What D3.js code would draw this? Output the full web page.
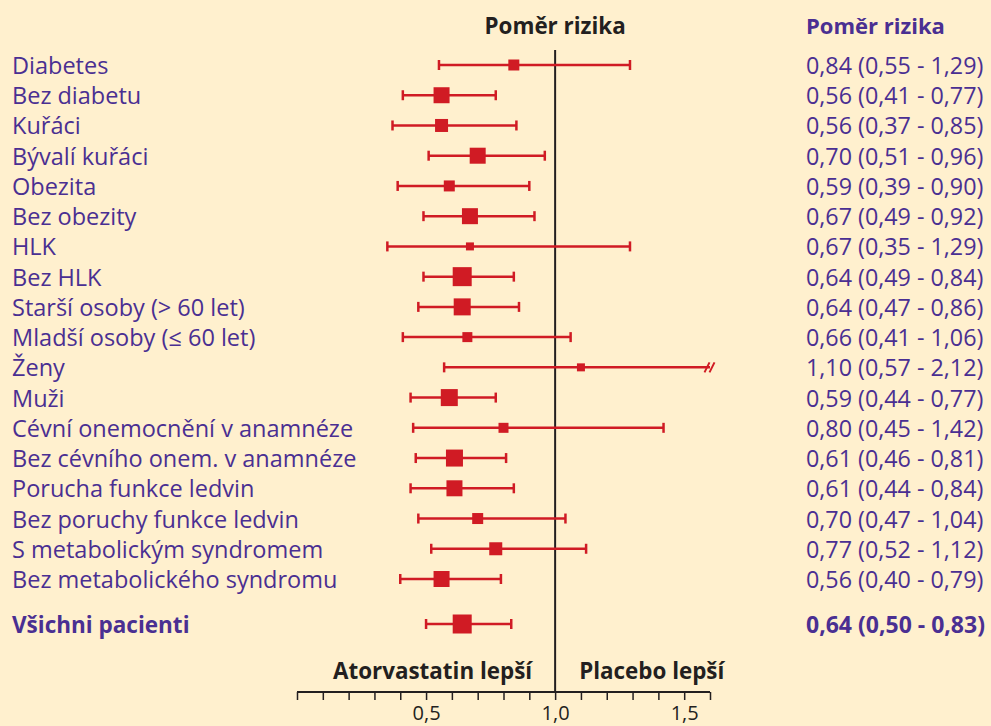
<!DOCTYPE html>
<html>
<head>
<meta charset="utf-8">
<script src="https://cdn.jsdelivr.net/npm/d3@7"></script>
<style>
  html, body { margin: 0; padding: 0; background: #fff0ce; }
  svg { display: block; }
</style>
</head>
<body>
<svg id="chart" width="991" height="726"></svg>
<script>
// ---- data ----
const categories = [
  "Diabetes", "Bez diabetu", "Kuřáci", "Bývalí kuřáci", "Obezita", "Bez obezity",
  "HLK", "Bez HLK", "Starší osoby (> 60 let)", "Mladší osoby (≤ 60 let)", "Ženy", "Muži",
  "Cévní onemocnění v anamnéze", "Bez cévního onem. v anamnéze", "Porucha funkce ledvin",
  "Bez poruchy funkce ledvin", "S metabolickým syndromem", "Bez metabolického syndromu"
];
const hr    = [0.84, 0.56, 0.56, 0.70, 0.59, 0.67, 0.67, 0.64, 0.64, 0.66, 1.10, 0.59, 0.80, 0.61, 0.61, 0.70, 0.77, 0.56];
const lower = [0.55, 0.41, 0.37, 0.51, 0.39, 0.49, 0.35, 0.49, 0.47, 0.41, 0.57, 0.44, 0.45, 0.46, 0.44, 0.47, 0.52, 0.40];
const upper = [1.29, 0.77, 0.85, 0.96, 0.90, 0.92, 1.29, 0.84, 0.86, 1.06, 2.12, 0.77, 1.42, 0.81, 0.84, 1.04, 1.12, 0.79];
const weight = [11, 16, 13, 16, 11, 16, 8, 19, 17, 10, 8, 17, 10, 17, 16, 11, 13, 16];
const overallLabel = "Všichni pacienti";
const overallHr = 0.64, overallLower = 0.50, overallUpper = 0.83, overallWeight = 19;
const tickValues = [0.5, 1.0, 1.5];
const headerLeft = "Poměr rizika";
const headerRight = "Poměr rizika";
const favLeft = "Atorvastatin lepší";
const favRight = "Placebo lepší";

// ---- layout ----
const svg = d3.select("#chart");
const W = 991, H = 726;
const RED = "#d01b24", PURPLE = "#4a2f92", BLACK = "#231f20";
const FONT = "'Open Sans', sans-serif";

svg.append("rect").attr("width", W).attr("height", H).attr("fill", "#fff0ce");

const x = d3.scaleLinear().domain([0, 1.6]).range([297, 710]);
const y = d3.scalePoint().domain(d3.range(categories.length)).range([65, 579]);
const yOverall = 624;
const size = d3.scaleLinear().domain([0, 19]).range([0, 19]);
const fmt = v => d3.format(".2f")(v).replace(".", ",");
const fsize = 23.5;

const rows = categories.map((c, i) => ({label: c, hr: hr[i], lo: lower[i], hi: upper[i], w: weight[i], y: y(i), bold: false}));
rows.push({label: overallLabel, hr: overallHr, lo: overallLower, hi: overallUpper, w: overallWeight, y: yOverall, bold: true});

// headers
svg.append("text").attr("x", x(1.0)).attr("y", 25).attr("text-anchor", "middle")
  .attr("dominant-baseline", "central").attr("font-family", FONT).attr("font-weight", "bold")
  .attr("font-size", 22.4).attr("fill", BLACK).text(headerLeft);
svg.append("text").attr("x", 806).attr("y", 25)
  .attr("dominant-baseline", "central").attr("font-family", FONT).attr("font-weight", "bold")
  .attr("font-size", 22).attr("fill", PURPLE).text(headerRight);

// reference line
svg.append("line").attr("x1", x(1)).attr("x2", x(1)).attr("y1", 50).attr("y2", 692)
  .attr("stroke", BLACK).attr("stroke-width", 2);

// labels
svg.selectAll("text.lab").data(rows).join("text").attr("class", "lab")
  .attr("x", 12).attr("y", d => d.y).attr("dominant-baseline", "central")
  .attr("font-family", FONT).attr("font-size", d => d.bold ? 22.5 : fsize).attr("font-weight", d => d.bold ? "bold" : "normal")
  .attr("fill", PURPLE).text(d => d.label);

svg.selectAll("text.val").data(rows).join("text").attr("class", "val")
  .attr("x", 806).attr("y", d => d.y).attr("dominant-baseline", "central")
  .attr("font-family", FONT).attr("font-size", d => d.bold ? 23 : 23.3).attr("font-weight", d => d.bold ? "bold" : "normal")
  .attr("fill", PURPLE).text(d => `${fmt(d.hr)} (${fmt(d.lo)} - ${fmt(d.hi)})`);

// CIs
const maxV = x.domain()[1];
const g = svg.append("g");
rows.forEach(d => {
  const clipped = d.hi > maxV;
  const xr = x(Math.min(d.hi, maxV));
  g.append("line").attr("x1", x(d.lo)).attr("x2", xr).attr("y1", d.y).attr("y2", d.y)
    .attr("stroke", RED).attr("stroke-width", 2.5);
  g.append("line").attr("x1", x(d.lo)).attr("x2", x(d.lo)).attr("y1", d.y - 5).attr("y2", d.y + 5)
    .attr("stroke", RED).attr("stroke-width", 2.5);
  if (!clipped) {
    g.append("line").attr("x1", xr).attr("x2", xr).attr("y1", d.y - 5).attr("y2", d.y + 5)
      .attr("stroke", RED).attr("stroke-width", 2.5);
  } else {
    [-3, 2].forEach(o => {
      g.append("line").attr("x1", xr + o - 2.5).attr("x2", xr + o + 2.5).attr("y1", d.y + 5).attr("y2", d.y - 5)
        .attr("stroke", RED).attr("stroke-width", 2);
    });
  }
  const s = size(d.w);
  g.append("rect").attr("x", x(d.hr) - s / 2).attr("y", d.y - s / 2).attr("width", s).attr("height", s)
    .attr("fill", RED);
});

// axis
const axisY = 692;
const axis = d3.axisBottom(x).tickValues(d3.range(0, 16.5, 1).map(v => v / 10)).tickSize(8)
  .tickFormat(v => tickValues.some(t => Math.abs(t - v) < 1e-9) ? d3.format(".1f")(v).replace(".", ",") : "");
const ag = svg.append("g").attr("transform", `translate(0,${axisY})`).call(axis);
ag.select(".domain").attr("stroke", BLACK).attr("stroke-width", 2).attr("d", `M${x(0)},0H${x(1.6)}`);
ag.selectAll(".tick line").attr("stroke", BLACK).attr("stroke-width", 1.5);
ag.selectAll(".tick text").attr("font-family", FONT).attr("font-size", 20).attr("fill", BLACK)
  .attr("y", 28).attr("dy", 0);

// favours labels
svg.append("text").attr("x", x(1) - 23).attr("y", 670).attr("text-anchor", "end").attr("dominant-baseline", "central")
  .attr("font-family", FONT).attr("font-weight", "bold").attr("font-size", 22.4).attr("fill", BLACK).text(favLeft);
svg.append("text").attr("x", x(1) + 24).attr("y", 670).attr("dominant-baseline", "central")
  .attr("font-family", FONT).attr("font-weight", "bold").attr("font-size", 22.4).attr("fill", BLACK).text(favRight);
</script>
</body>
</html>
